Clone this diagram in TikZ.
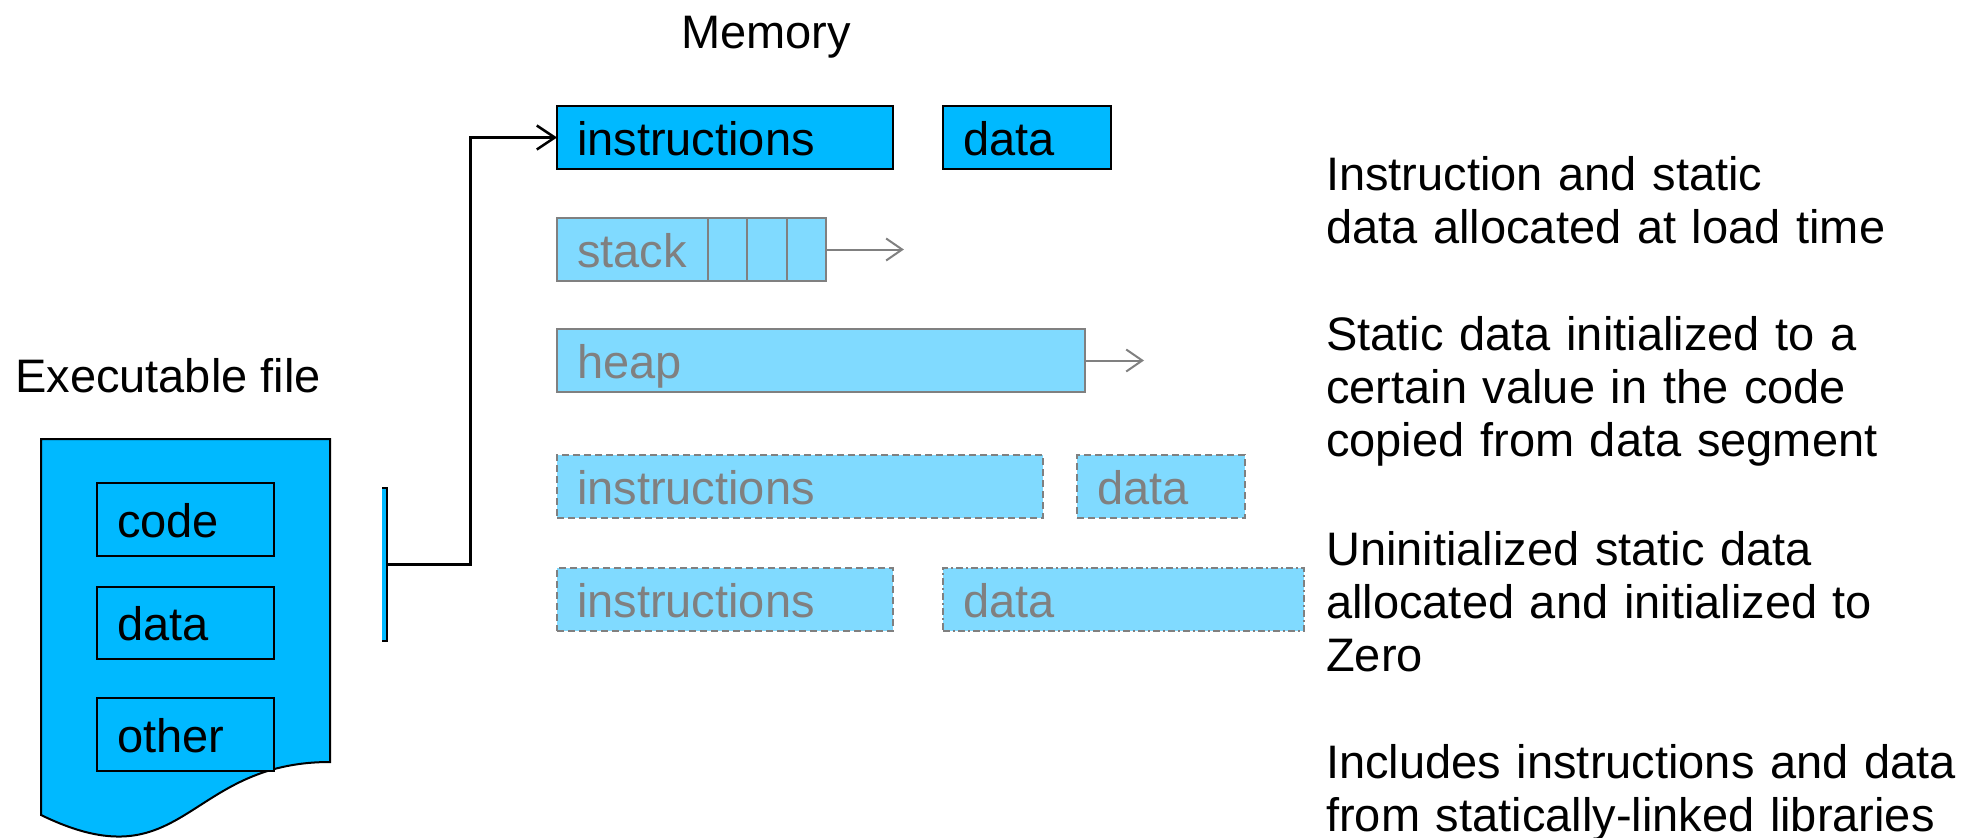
\documentclass[tikz,border=0pt]{standalone}
\usepackage{fontspec}
\setmainfont{Liberation Sans}
\usetikzlibrary{positioning,arrows.meta}
\definecolor{segblue}{RGB}{0,185,255}
\definecolor{segpale}{RGB}{128,218,255}
\definecolor{seggray}{RGB}{128,128,128}

\begin{document}
\begin{tikzpicture}[x=1pt,y=-1pt,
  every node/.style={font=\fontsize{47}{53}\selectfont},
  loadbox/.style={draw=black,fill=segblue,line width=2pt,anchor=north west,outer sep=0pt,
    inner xsep=20pt,inner ysep=0pt,minimum height=63pt,text height=35pt,text depth=0pt,align=left},
  filebox/.style={loadbox,minimum height=73pt,text width=137pt},
  runbox/.style={loadbox,draw=seggray,fill=segpale,text=seggray},
  cellbox/.style={draw=seggray,fill=segpale,line width=2pt,minimum width=39.3pt,
    minimum height=63pt,inner sep=0pt,outer sep=0pt},
  dashbox/.style={runbox,dash pattern=on 7pt off 4pt},
  dotbox/.style={runbox,dash pattern=on 7pt off 3pt on 2pt off 3pt},
  notebox/.style={anchor=base west,text width=650pt,align=left,inner sep=0pt},
  growline/.style={draw=seggray,line width=2pt,-{Straight Barb[length=16pt,width=22pt]}},
  link/.style={line width=2.5pt,-{Straight Barb[length=18pt,width=24pt]}}]
  \useasboundingbox (0,0) rectangle (1966,838);

  \node[anchor=base] (exetitle) at (168,392) {Executable file};
  \node[anchor=base] (memtitle) at (766,48) {Memory};

  \draw[fill=segblue,line width=2pt] (41,439) -- (330,439) -- (330,762)
    .. controls (185,762) and (185,885) .. (41,815) -- cycle;
  \node[filebox] (code) at (97,483) {code};
  \node[filebox,minimum height=72pt] (fdata) at (97,587) {data};
  \node[filebox] (other) at (97,698) {other};

  \node[fill=segblue,minimum width=5pt,minimum height=153pt,inner sep=0pt,anchor=north west] (brkt) at (382,488) {};
  \draw[line width=2pt] (brkt.north west) -- (brkt.north east) -- (brkt.south east) -- (brkt.south west);

  \node[loadbox,text width=296pt] (instr) at (557,106) {instructions};
  \node[loadbox,text width=128pt] (idata) at (943,106) {data};

  \node[runbox,text width=111pt] (stack) at (557,218) {stack};
  \foreach \i/\prev in {1/stack,2/cell1,3/cell2} {
    \node[cellbox,right=0pt of \prev] (cell\i) {};
  }
  \coordinate[right=78pt of cell3.east] (stacktip);
  \draw[growline] (cell3.east) -- (stacktip);

  \node[runbox,text width=488pt] (heap) at (557,329) {heap};
  \coordinate[right=59pt of heap.east] (heaptip);
  \draw[growline] (heap.east) -- (heaptip);

  \node[dashbox,text width=446pt] (dinstr) at (557,455) {instructions};
  \node[dashbox,text width=128pt] (ddata) at (1077,455) {data};
  \node[dashbox,text width=296pt] (linstr) at (557,568) {instructions};
  \node[dotbox,text width=321pt] (ldata) at (943,568) {data};

  \draw[link] (brkt.east) -- ++(83,0) |- (instr.west);

  \node[notebox] (note1) at (1326,190) {Instruction and static\\data allocated at load time};
  \node[notebox] (note2) at (1326,350) {Static data initialized to a\\certain value in the code\\copied from data segment};
  \node[notebox] (note3) at (1326,565) {Uninitialized static data\\allocated and initialized to\\Zero};
  \node[notebox] (note4) at (1326,778) {Includes instructions and data\\from statically-linked libraries};
\end{tikzpicture}
\end{document}
